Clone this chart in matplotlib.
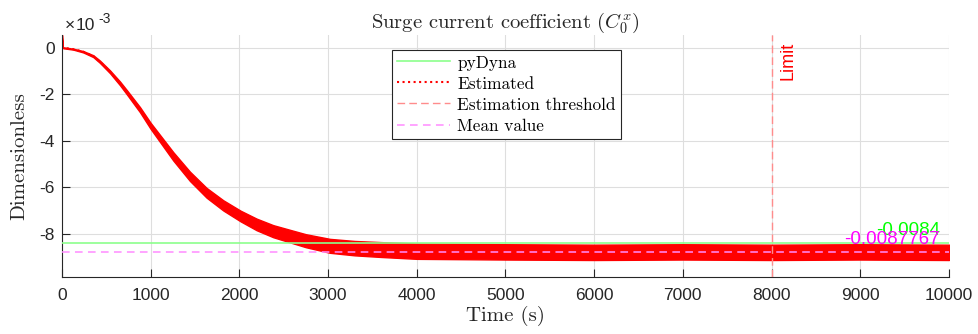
import matplotlib.pyplot as plt
from matplotlib.ticker import FuncFormatter

plt.rcParams['mathtext.fontset'] = 'cm'

# estimated coefficient (values in units of 1e-3)
time_knots = [0, 8, 15, 128, 240, 353, 428, 541, 654, 729,
              879, 1000, 1255, 1443, 1631, 1819, 2015, 2195, 2382, 2570,
              2750, 3021, 3300, 3600, 4000, 5000, 6000, 7000, 8000, 9000,
              10000]
est_center = [0.55, 0.02, 0.0, -0.06, -0.17, -0.36, -0.6, -1.03, -1.53, -1.90,
              -2.66, -3.36, -4.67, -5.53, -6.24, -6.78, -7.24, -7.60, -7.89, -8.10,
              -8.30, -8.52, -8.62, -8.68, -8.75, -8.78, -8.80, -8.78, -8.80, -8.78,
              -8.80]
est_halfwidth = [0.01, 0.01, 0.02, 0.02, 0.03, 0.04, 0.05, 0.06, 0.08, 0.09,
                 0.11, 0.13, 0.18, 0.2, 0.21, 0.22, 0.23, 0.25, 0.26, 0.27,
                 0.28, 0.3, 0.31, 0.32, 0.33, 0.33, 0.33, 0.33, 0.33, 0.33,
                 0.33]

pydyna_value = -0.0084
mean_value = -0.0087767
limit_time = 8000

x_ticks = list(range(0, 10001, 1000))
y_ticks = [-8e-3, -6e-3, -4e-3, -2e-3, 0.0]

serif = 'cmr10'
sans = 'Liberation Sans'
dark = (0.15, 0.15, 0.15)

est = [v * 1e-3 for v in est_center]
lo = [(c - h) * 1e-3 for c, h in zip(est_center, est_halfwidth)]
hi = [(c + h) * 1e-3 for c, h in zip(est_center, est_halfwidth)]

fig = plt.figure(figsize=(9.79, 3.34), dpi=100)
ax = fig.add_axes([0.0633, 0.1707, 0.906, 0.7245])

ax.fill_between(time_knots, lo, hi, color='red', lw=1.0, zorder=2)
h_est, = ax.plot(time_knots, est, ':', color='red', lw=1.5, zorder=2)
h_py = ax.axhline(pydyna_value, color=(0.55, 1, 0.55), lw=1.2, zorder=3)
h_thr = ax.axvline(limit_time, color=(1, 0.55, 0.55), lw=1, dashes=(5.5, 3), zorder=3)
h_mean = ax.axhline(mean_value, color=(1, 0.55, 1), lw=1.1, dashes=(5, 3.5), zorder=3)

ax.annotate('-0.0084', xy=(9900, pydyna_value), xytext=(0, 3), textcoords='offset points',
            ha='right', va='bottom', color=(0, 1, 0), fontsize=13.5, family=sans, zorder=4)
ax.annotate('-0.0087767', xy=(9900, mean_value), xytext=(0, 3), textcoords='offset points',
            ha='right', va='bottom', color=(1, 0, 1), fontsize=13.5, family=sans, zorder=5)
ax.text(limit_time + 90, 0.972, 'Limit', rotation=90, color='red', fontsize=13, family=sans,
        ha='left', va='top', transform=ax.get_xaxis_transform())

ax.set_xlim(0, 10000)
ax.set_ylim(-9.86e-3, 0.55e-3)
ax.set_xticks(x_ticks)
ax.set_yticks(y_ticks)
ax.yaxis.set_major_formatter(FuncFormatter(lambda v, p: '%d' % round(v * 1e3)))
ax.tick_params(direction='in', length=6, width=0.8, colors=dark, labelsize=12.5,
               labelfontfamily=sans)
ax.tick_params(axis='x', pad=8)
ax.tick_params(axis='y', pad=5)
ax.grid(True, color=(0.87, 0.87, 0.87), lw=0.8)
ax.set_axisbelow(True)
for s in ['top', 'right']:
    ax.spines[s].set_visible(False)
for s in ['left', 'bottom']:
    ax.spines[s].set_color(dark)
    ax.spines[s].set_linewidth(0.8)

# exponent label, MATLAB style
fig.text(65 / 979, 304 / 334, '\u00d7', fontsize=12.5, family=sans, color=dark, va='baseline')
fig.text(76 / 979, 304 / 334, '10', fontsize=12.5, family=sans, color=dark, va='baseline')
fig.text(98 / 979, 311 / 334, '-3', fontsize=10, family=sans, color=dark, va='baseline')

ax.set_title(r'Surge current coefficient ($C_0^x$)', fontfamily=serif, fontsize=14.8,
             color=dark, pad=5)
ax.set_xlabel('Time (s)', fontfamily=serif, fontsize=15, color=dark, labelpad=2)
ax.set_ylabel('Dimensionless', fontfamily=serif, fontsize=15, color=dark, labelpad=8)

leg = ax.legend([h_py, h_est, h_thr, h_mean],
                ['pyDyna', 'Estimated', 'Estimation threshold', 'Mean value'],
                loc='upper left', bbox_to_anchor=(0.372, 0.938), borderaxespad=0,
                prop={'family': serif, 'size': 12.4}, handlelength=3.1, handletextpad=0.4,
                labelspacing=0.33, borderpad=0.3, fancybox=False, framealpha=1,
                edgecolor=dark)
leg.get_frame().set_linewidth(0.8)

fig.savefig('out.png', dpi=100)
